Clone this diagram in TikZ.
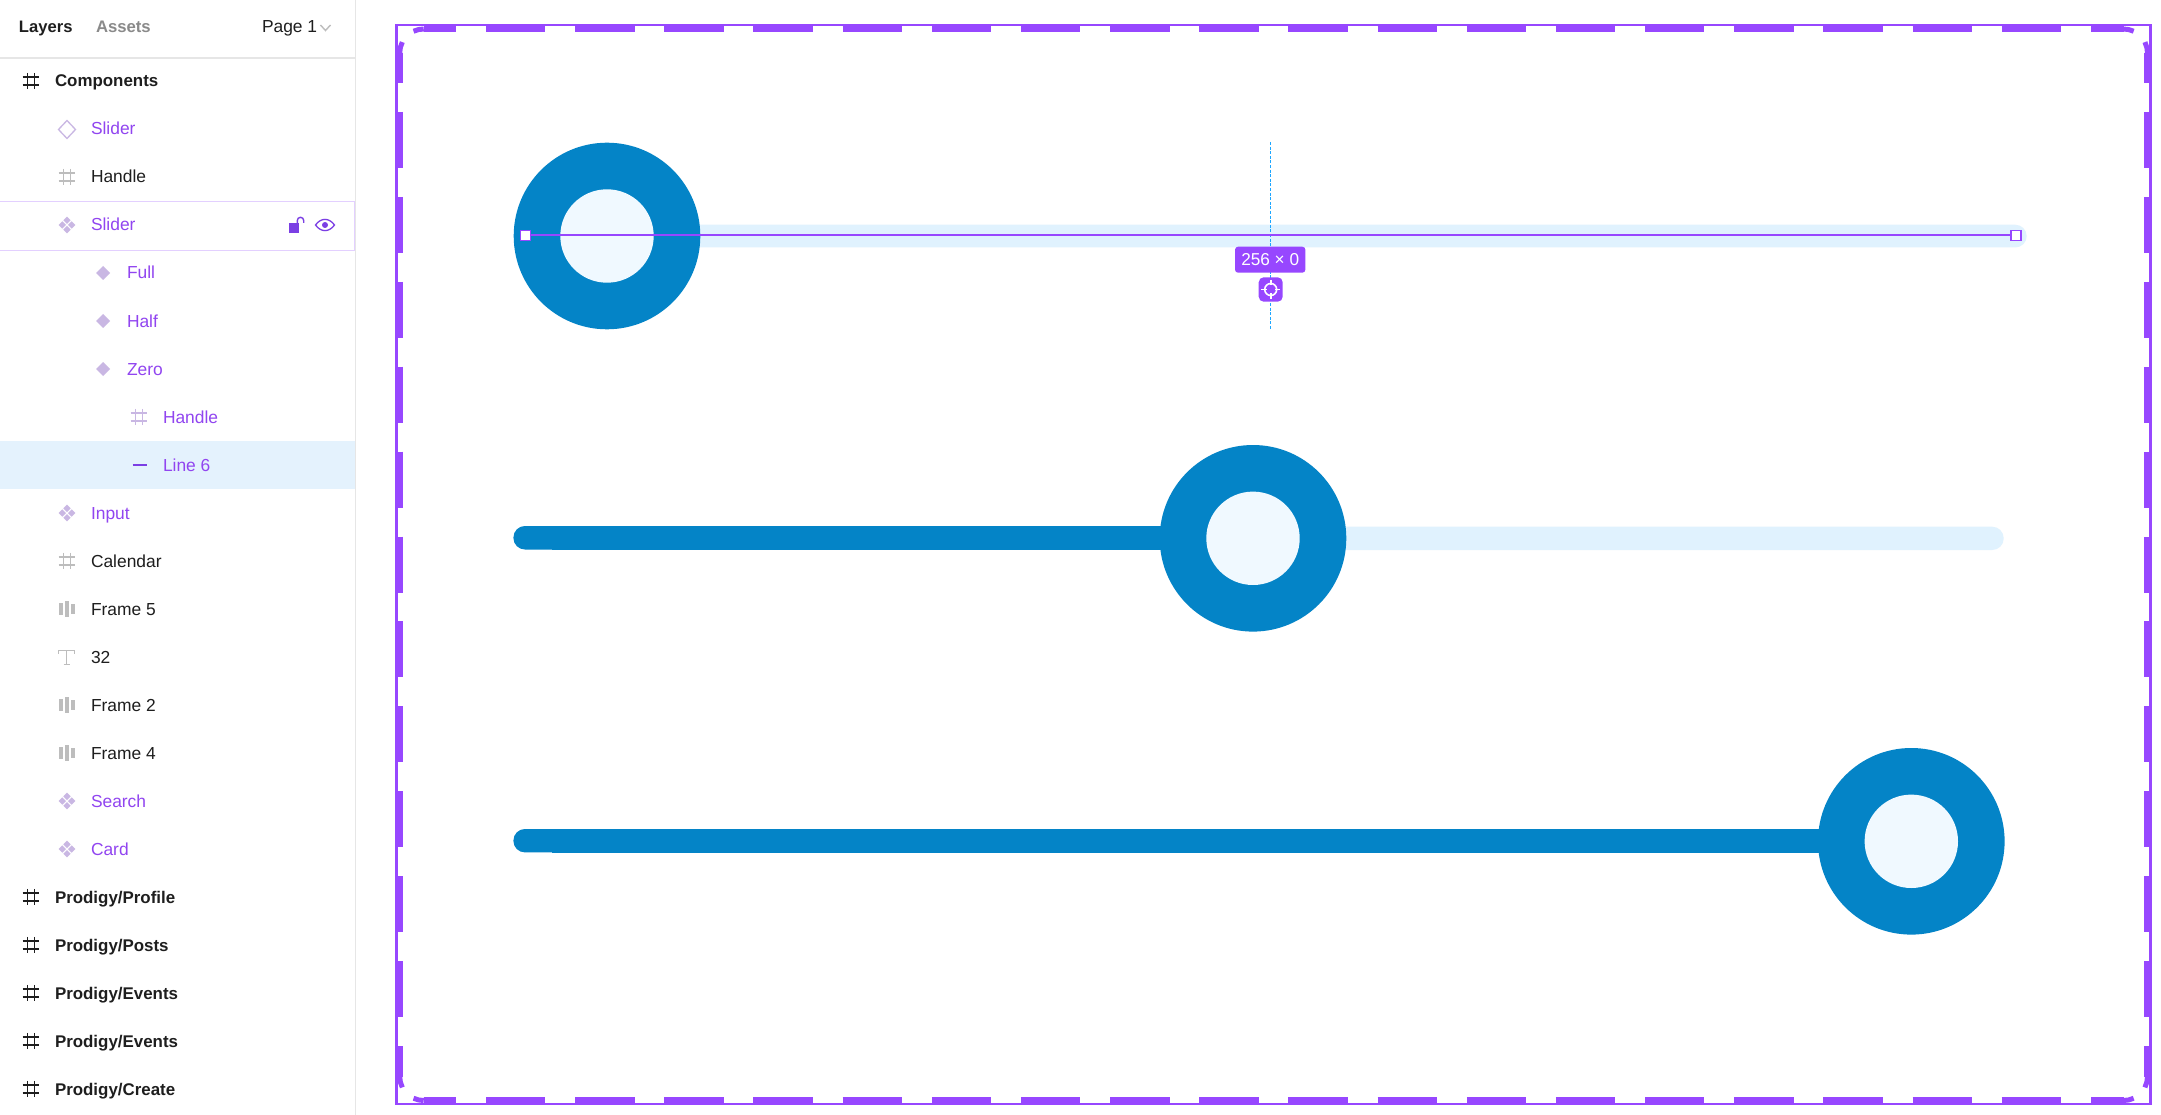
\documentclass[tikz,border=0pt]{standalone}
\usepackage{fontspec}
\setmainfont{Liberation Sans}
\definecolor{ink}{HTML}{1E1E1E}
\definecolor{vio}{HTML}{9747FF}
\definecolor{vioT}{HTML}{9145F0}
\definecolor{vioD}{HTML}{7B3FE4}
\definecolor{lilac}{HTML}{C9B7E3}
\definecolor{greyI}{HTML}{BDBDBD}
\definecolor{greyT}{HTML}{8A8A8A}
\definecolor{paneline}{HTML}{E6E6E6}
\definecolor{selrow}{HTML}{E4F2FD}
\definecolor{hover}{HTML}{E3D0FF}
\definecolor{blueA}{HTML}{0484C7}
\definecolor{blueB}{HTML}{F0F9FF}
\definecolor{blueC}{HTML}{E0F2FE}
\definecolor{guide}{HTML}{1CA6FF}
\tikzset{
  lbl/.style={inner sep=0pt,outer sep=0pt,anchor=base west,font=\fontsize{17.4}{20}\selectfont,text=ink},
  lblv/.style={lbl,text=vioT},
  lblb/.style={lbl,font=\fontsize{16.9}{20}\selectfont\bfseries},
  dashstroke/.style={draw=vio,line width=6.8pt},
  arcstroke/.style={draw=vio,line width=5pt},
  knob/.style={circle,fill=blueA,draw=none,minimum size=186.6pt,inner sep=0pt,outer sep=0pt},
  knobin/.style={circle,fill=blueB,draw=none,minimum size=93.4pt,inner sep=0pt,outer sep=0pt},
  trackbg/.style={fill=blueC,rounded corners=11.5pt},
  trackfg/.style={fill=blueA},
  endsq/.style={rectangle,draw=vio,fill=white,line width=1.6pt,minimum size=10pt,inner sep=0pt,outer sep=0pt},
}
% #1 x, #2 y, #3 colour
\newcommand{\hashico}[3]{%
  \draw[#3,line width=1.5pt] (#1-3.6,#2-8.2) -- (#1-3.6,#2+8.2) (#1+3.6,#2-8.2) -- (#1+3.6,#2+8.2)
     (#1-8.4,#2-4.2) -- (#1+8.4,#2-4.2) (#1-8.4,#2+4.2) -- (#1+8.4,#2+4.2);}
\newcommand{\dmd}[4]{\fill[#4] (#1-#3,#2) -- (#1,#2-#3) -- (#1+#3,#2) -- (#1,#2+#3) -- cycle;}
\newcommand{\compico}[2]{%
  \dmd{#1-4.7}{#2}{3.7}{lilac}\dmd{#1+4.7}{#2}{3.7}{lilac}\dmd{#1}{#2-4.7}{3.7}{lilac}\dmd{#1}{#2+4.7}{3.7}{lilac}}
\newcommand{\barsico}[2]{%
  \fill[greyI] (#1-7.7,#2-6.3) rectangle (#1-4,#2+6.3);
  \fill[greyI] (#1-2,#2-7.7) rectangle (#1+2,#2+7.7);
  \fill[greyI] (#1+4.3,#2-4.7) rectangle (#1+7.7,#2+4.7);}
\begin{document}
\begin{tikzpicture}[x=1pt,y=-1pt]
\useasboundingbox (0,0) rectangle (2161,1115);
\fill[white] (0,0) rectangle (2161,1115);

% ---------- side pane ----------
\fill[selrow] (0,441) rectangle (355,489);
\draw[hover,line width=1.2pt] (0,201.7) -- (354.6,201.7) -- (354.6,250.3) -- (0,250.3);
\draw[paneline,line width=1.5pt] (355.6,0) -- (355.6,1115);
\draw[paneline,line width=2pt] (0,58) -- (355,58);

\node[lblb,font=\fontsize{16.6}{20}\selectfont\bfseries] (tabA) at (19,33) {Layers};
\node[lbl,text=greyT,font=\fontsize{16.7}{20}\selectfont\bfseries] (tabB) at (96,33) {Assets};
\node[lbl] (page) at (262,33) {Page 1};
\draw[greyI,line width=1.4pt] (320.5,25) -- (325.5,30.5) -- (330.5,25);

\hashico{31}{81}{ink}
\node[lblb] (r0) at (55,87) {Components};
\draw[lilac,line width=1.3pt] (67,120.5) -- (58.5,129.5) -- (67,138.5) -- (75.5,129.5) -- cycle;
\node[lblv] (r1) at (91,135) {Slider};
\hashico{67}{177}{greyI}
\node[lbl] (r2) at (91,183) {Handle};
\compico{67}{225}
\node[lblv] (r3) at (91,231) {Slider};
% lock
\fill[vioD] (289,223.5) rectangle (299.3,233);
\draw[vioD,line width=1.4pt] (297.3,224) -- (297.3,220.5) arc[start angle=180,end angle=0,radius=3.2pt] -- (303.7,223);
% eye
\draw[vioD,line width=1.3pt] (315.5,225) .. controls (321,217.5) and (329,217.5) .. (334.5,225) .. controls (329,232.5) and (321,232.5) .. (315.5,225) -- cycle;
\fill[vioD] (325,225) circle[radius=3pt];

\dmd{103}{273}{7}{lilac}
\node[lblv] (r4) at (127,279) {Full};
\dmd{103}{321}{7}{lilac}
\node[lblv] (r5) at (127,327) {Half};
\dmd{103}{369}{7}{lilac}
\node[lblv] (r6) at (127,375) {Zero};
\hashico{139}{417}{lilac}
\node[lblv] (r7) at (163,423) {Handle};
\draw[vioD,line width=1.5pt] (132.5,465) -- (146.5,465);
\node[lblv] (r8) at (163,471) {Line 6};
\compico{67}{513}
\node[lblv] (r9) at (91,519) {Input};
\hashico{67}{561}{greyI}
\node[lbl] (r10) at (91,567) {Calendar};
\barsico{67}{609}
\node[lbl] (r11) at (91,615) {Frame 5};
% text icon
\draw[greyI,line width=1.3pt] (58.5,653.5) -- (58.5,650.8) -- (74.5,650.8) -- (74.5,653.5) (66.5,650.8) -- (66.5,664.5) (63.5,664.5) -- (69.5,664.5);
\node[lbl] (r12) at (91,663) {32};
\barsico{67}{705}
\node[lbl] (r13) at (91,711) {Frame 2};
\barsico{67}{753}
\node[lbl] (r14) at (91,759) {Frame 4};
\compico{67}{801}
\node[lblv] (r15) at (91,807) {Search};
\compico{67}{849}
\node[lblv] (r16) at (91,855) {Card};
\hashico{31}{897}{ink}
\node[lblb] (r17) at (55,903) {Prodigy/Profile};
\hashico{31}{945}{ink}
\node[lblb] (r18) at (55,951) {Prodigy/Posts};
\hashico{31}{993}{ink}
\node[lblb] (r19) at (55,999) {Prodigy/Events};
\hashico{31}{1041}{ink}
\node[lblb] (r20) at (55,1047) {Prodigy/Events};
\hashico{31}{1089}{ink}
\node[lblb] (r21) at (55,1095) {Prodigy/Create};

% ---------- canvas frame ----------
\draw[vio,line width=2.4pt] (396.5,25.2) rectangle (2150.6,1103.8);
\foreach \k in {0,...,17}{
  \pgfmathsetmacro{\xa}{486+89.16*\k}
  \pgfmathsetmacro{\xb}{\xa+59.4}
  \draw[dashstroke] (\xa,29) -- (\xb,29);
  \draw[dashstroke] (\xa,1100.5) -- (\xb,1100.5);
}
\draw[dashstroke] (423.7,29) -- (456,29);
\draw[dashstroke] (423.7,1100.5) -- (456,1100.5);
\draw[dashstroke] (2091,29) -- (2123.5,29);
\draw[dashstroke] (2091,1100.5) -- (2123.5,1100.5);
\foreach \k in {0,...,10}{
  \pgfmathsetmacro{\ya}{112+84.9*\k}
  \pgfmathsetmacro{\yb}{\ya+56}
  \draw[dashstroke] (399.7,\ya) -- (399.7,\yb);
  \draw[dashstroke] (2147.5,\ya) -- (2147.5,\yb);
}
\draw[dashstroke] (399.7,53) -- (399.7,83.3);
\draw[dashstroke] (2147.5,53) -- (2147.5,83.3);
\draw[dashstroke] (399.7,1046) -- (399.7,1076.5);
\draw[dashstroke] (2147.5,1046) -- (2147.5,1076.5);
% corner pieces
\draw[arcstroke] (423.7,29) arc[start angle=90,end angle=115,radius=24pt];
\draw[arcstroke] (399.7,53) arc[start angle=180,end angle=153,radius=24pt];
\draw[arcstroke] (2123.5,29) arc[start angle=90,end angle=65,radius=24pt];
\draw[arcstroke] (2147.5,53) arc[start angle=0,end angle=27,radius=24pt];
\draw[arcstroke] (423.7,1100.5) arc[start angle=-90,end angle=-115,radius=24pt];
\draw[arcstroke] (399.7,1076.5) arc[start angle=180,end angle=207,radius=24pt];
\draw[arcstroke] (2123.5,1100.5) arc[start angle=-90,end angle=-65,radius=24pt];
\draw[arcstroke] (2147.5,1076.5) arc[start angle=0,end angle=-27,radius=24pt];

% ---------- slider: zero ----------
\fill[trackbg] (600,224.7) rectangle (2026.7,247.5);
\node[knob] (knobA) at (607,236) {};
\node[knobin] (innerA) at (607,236) {};

% ---------- slider: half ----------
\fill[trackbg] (1200,526.7) rectangle (2003.7,550);
\fill[blueA,rounded corners=11.5pt] (513.4,526) rectangle (590,549.5);
\fill[trackfg] (552,526.4) rectangle (1200,550);
\node[knob] (knobB) at (1253,538.3) {};
\node[knobin] (innerB) at (1253,538.3) {};

% ---------- slider: full ----------
\fill[blueA,rounded corners=11.5pt] (513.4,829) rectangle (590,852.4);
\fill[trackfg] (552,829.3) rectangle (1850,852.7);
\node[knob] (knobC) at (1911.3,841.3) {};
\node[knobin] (innerC) at (1911.3,841.3) {};

% ---------- selection overlay ----------
\coordinate (guideT) at (1270.5,142);
\coordinate (guideB) at (1270.5,329);
\draw[guide,line width=1.5pt,dash pattern=on 3pt off 1.6pt] (guideT) -- (guideB);
\node[endsq] (sqL) at (525.3,235.5) {};
\node[endsq] (sqR) at (2015.7,235.5) {};
\draw[vio,line width=2pt] (sqL) -- (sqR);
\node[fill=vio,rounded corners=3pt,minimum width=70.3pt,minimum height=26pt,inner sep=0pt,outer sep=0pt,text=white,font=\fontsize{17.2}{20}\selectfont] (dim) at (1270.2,259.7) {256 × 0};
\node[fill=vio,rounded corners=5pt,minimum width=24pt,minimum height=24.4pt,inner sep=0pt,outer sep=0pt] (btn) at (1270.7,289.5) {};
\draw[white,line width=1.6pt] (btn.center) circle[radius=6pt];
\draw[white,line width=1.6pt]
  ([yshift=9.5pt]btn.center) -- ([yshift=4pt]btn.center)
  ([yshift=-9.5pt]btn.center) -- ([yshift=-4pt]btn.center)
  ([xshift=9.5pt]btn.center) -- ([xshift=4pt]btn.center)
  ([xshift=-9.5pt]btn.center) -- ([xshift=-4pt]btn.center);
\end{tikzpicture}
\end{document}
